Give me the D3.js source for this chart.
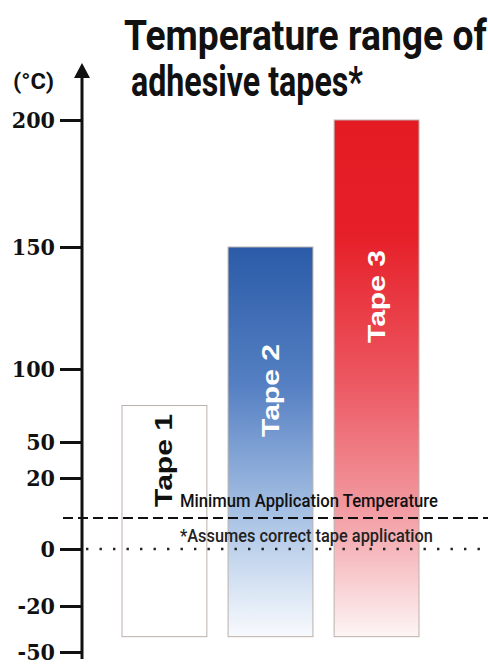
<!DOCTYPE html>
<html>
<head>
<meta charset="utf-8">
<script src="https://cdn.jsdelivr.net/npm/d3@7"></script>
<style>
  body { margin: 0; background: #fff; }
  svg { display: block; }
</style>
</head>
<body>
<div class="chart"></div>
<script>
// ____________________________ data ____________________________
const tapes = ["Tape 1", "Tape 2", "Tape 3"];
const lowTemp = [-40, -40, -40];
const highTemp = [75, 150, 200];
const tickValues = [-50, -20, 0, 20, 50, 100, 150, 200];
const minAppTemp = 10;
const correctTemp = 0;

// ____________________________ layout ____________________________
const width = 488, height = 664;
// the printed axis is not linear, so the scale is piecewise
const yBreaks = [-50, -20, 0, 10, 20, 50, 100, 150, 200];
const yPixels = [652, 606, 549, 518, 478, 442, 369, 247, 120];
const labelBase = [507, 437, 343];
const axisX = 82;

const svg = d3.select(".chart")
    .append("svg")
    .attr("width", width)
    .attr("height", height);

const yScale = d3.scaleLinear().domain(yBreaks).range(yPixels);

const xScale = d3.scaleBand()
    .domain(tapes)
    .range([122, 419])
    .paddingInner(0.2)
    .paddingOuter(0);

// squeeze a text horizontally so it fills a given width (condensed look)
function fitText(x, y, str, size, weight, w, color, family){
    const t = svg.append("text")
        .attr("font-family", family || "Roboto, 'Liberation Sans', sans-serif")
        .attr("font-weight", weight)
        .attr("font-size", size)
        .attr("fill", color)
        .text(str);
    const k = w / t.node().getComputedTextLength();
    t.attr("transform", `translate(${x},${y}) scale(${k},1)`);
    return t;
}

// gradients
const defs = svg.append("defs");
function grad(id, stops){
    const g = defs.append("linearGradient")
        .attr("id", id)
        .attr("x1", 0).attr("y1", 0).attr("x2", 0).attr("y2", 1);
    stops.forEach(s => g.append("stop").attr("offset", s[0]).attr("stop-color", s[1]));
}
grad("blueGrad", [[0, "#2b5ba8"], [0.35, "#547fc2"], [0.68, "#a6c0e4"], [0.88, "#d9e5f4"], [1, "#f8fafd"]]);
grad("redGrad", [[0, "#e41b23"], [0.22, "#e61f28"], [0.5, "#ec5660"], [0.75, "#f299a0"], [1, "#fdf5f5"]]);
const fills = ["#ffffff", "url(#blueGrad)", "url(#redGrad)"];
const labelColors = ["#111", "#fff", "#fff"];

// bars
svg.append("g")
    .selectAll("rect")
    .data(tapes)
    .join("rect")
        .attr("x", d => xScale(d))
        .attr("y", (d, i) => yScale(highTemp[i]))
        .attr("width", xScale.bandwidth())
        .attr("height", (d, i) => yScale(lowTemp[i]) - yScale(highTemp[i]))
        .attr("fill", (d, i) => fills[i])
        .attr("stroke", "#bcb0ab")
        .attr("stroke-width", 1);

// bar labels
svg.append("g")
    .selectAll("text")
    .data(tapes)
    .join("text")
        .attr("transform", (d, i) => `translate(${xScale(d) + xScale.bandwidth() / 2},${labelBase[i]}) rotate(-90)`)
        .attr("dominant-baseline", "central")
        .attr("font-family", "'Liberation Sans', Arial, sans-serif")
        .attr("font-weight", "bold")
        .attr("font-size", 23)
        .attr("textLength", 93)
        .attr("lengthAdjust", "spacingAndGlyphs")
        .attr("fill", (d, i) => labelColors[i])
        .text(d => d);

// reference lines
svg.append("line")
    .attr("x1", 63).attr("x2", width)
    .attr("y1", yScale(minAppTemp)).attr("y2", yScale(minAppTemp))
    .attr("stroke", "#111")
    .attr("stroke-width", 2)
    .attr("stroke-dasharray", "10 5");

svg.append("line")
    .attr("x1", axisX + 4).attr("x2", width)
    .attr("y1", yScale(correctTemp)).attr("y2", yScale(correctTemp))
    .attr("stroke", "#222")
    .attr("stroke-width", 2.4)
    .attr("stroke-dasharray", "2.4 11.1");

fitText(180, yScale(minAppTemp) - 11, "Minimum Application Temperature", 19, 500, 258, "#111");
fitText(180, yScale(minAppTemp) + 24, "*Assumes correct tape application", 19, 500, 253, "#222");

// y axis
function yAxis(g){
    g.call(d3.axisLeft(yScale).tickValues(tickValues).tickFormat(d => String(d)).tickSize(22).tickPadding(5))
     .attr("transform", `translate(${axisX},0)`);
    g.select(".domain").remove();
    g.selectAll(".tick line").attr("stroke", "#111").attr("stroke-width", 3);
    g.selectAll(".tick text")
        .attr("font-family", "'DejaVu Serif', 'Liberation Serif', serif")
        .attr("font-stretch", "condensed")
        .attr("font-weight", "bold")
        .attr("font-size", 23)
        .attr("fill", "#111")
        .attr("dy", "0.34em");
}
svg.append("g").call(yAxis);

svg.append("line")
    .attr("x1", axisX).attr("x2", axisX)
    .attr("y1", yScale(-50) + 7).attr("y2", 76)
    .attr("stroke", "#111")
    .attr("stroke-width", 3);

svg.append("path")
    .attr("d", `M${axisX},63 L${axisX + 8},78 L${axisX - 8},78 Z`)
    .attr("fill", "#111");

fitText(13, 89, "(°C)", 22, "bold", 41, "#111");

// title
fitText(124, 50, "Temperature range of", 43, "bold", 363, "#111");
fitText(131, 96, "adhesive tapes*", 43, "bold", 232, "#111");
</script>
</body>
</html>
